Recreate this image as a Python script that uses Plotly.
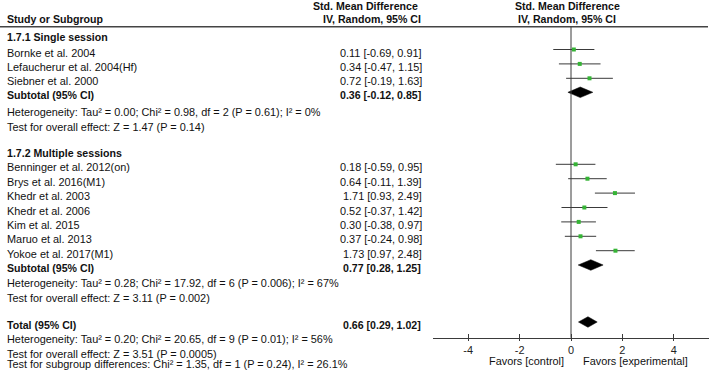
import plotly.graph_objects as go

W, H = 709, 372

# ---------------- data ----------------
studies = ["Bornke et al. 2004", "Lefaucherur et al. 2004(Hf)", "Siebner et al. 2000",
           "Benninger et al. 2012(on)", "Brys et al. 2016(M1)", "Khedr et al. 2003",
           "Khedr et al. 2006", "Kim et al. 2015", "Maruo et al. 2013", "Yokoe et al. 2017(M1)"]
smd = [0.11, 0.34, 0.72, 0.18, 0.64, 1.71, 0.52, 0.30, 0.37, 1.73]
ci_lo = [-0.69, -0.47, -0.19, -0.59, -0.11, 0.93, -0.37, -0.38, -0.24, 0.97]
ci_hi = [0.91, 1.15, 1.63, 0.95, 1.39, 2.49, 1.42, 0.97, 0.98, 2.48]

subgroup_titles = ["1.7.1 Single session", "1.7.2 Multiple sessions"]
pooled_labels = ["Subtotal (95% CI)", "Subtotal (95% CI)", "Total (95% CI)"]
pooled_est = [0.36, 0.77, 0.66]
pooled_lo = [-0.12, 0.28, 0.29]
pooled_hi = [0.85, 1.25, 1.02]
het_texts = ["Heterogeneity: Tau² = 0.00; Chi² = 0.98, df = 2 (P = 0.61); I² = 0%",
             "Heterogeneity: Tau² = 0.28; Chi² = 17.92, df = 6 (P = 0.006); I² = 67%",
             "Heterogeneity: Tau² = 0.20; Chi² = 20.65, df = 9 (P = 0.01); I² = 56%"]
overall_texts = ["Test for overall effect: Z = 1.47 (P = 0.14)",
                 "Test for overall effect: Z = 3.11 (P = 0.002)",
                 "Test for overall effect: Z = 3.51 (P = 0.0005)"]
subgroup_diff_text = "Test for subgroup differences: Chi² = 1.35, df = 1 (P = 0.24), I² = 26.1%"
x_ticks = [-4, -2, 0, 2, 4]
x_tick_labels = ["-4", "-2", "0", "2", "4"]
favors_labels = ["Favors [control]", "Favors [experimental]"]
header_col1 = "Study or Subgroup"
header_lines = ["Std. Mean Difference", "IV, Random, 95% CI"]

# ---------------- layout positions (pixels) ----------------
study_row_y = [49.5, 63.9, 78.3, 164.3, 178.7, 193.1, 207.5, 221.9, 236.3, 250.7]
pooled_row_y = [92.3, 265.0, 322.0]
title_row_y = [37.2, 152.5]
het_row_y = [111.5, 282.8, 338.8]
overall_row_y = [126.5, 298.2, 354.2]
subdiff_y = 364.0
TEXT_DY = 3.0
AXIS_Y = 337.8
HEADER_LINE_Y = 26.7
NAME_X = 5
VALUE_X = 424
DIAMOND_HALF = 5.3

FONT = "Liberation Sans, Arial, sans-serif"
FS = 10.9
FS_BOLD = 10.6
LINE = "#3a3a3a"

fig = go.Figure()

# study CIs and point estimates
fig.add_trace(go.Scatter(
    x=smd, y=study_row_y, mode="markers",
    marker=dict(symbol="square", size=4, color="#35b435", line=dict(width=0)),
    error_x=dict(type="data", symmetric=False,
                 array=[h - m for m, h in zip(smd, ci_hi)],
                 arrayminus=[m - l for m, l in zip(smd, ci_lo)],
                 width=0, thickness=1, color=LINE),
    hoverinfo="skip", showlegend=False))

# pooled diamonds
for est, lo, hi, yy in zip(pooled_est, pooled_lo, pooled_hi, pooled_row_y):
    fig.add_trace(go.Scatter(
        x=[lo, est, hi, est, lo],
        y=[yy, yy - DIAMOND_HALF, yy, yy + DIAMOND_HALF, yy],
        mode="lines", fill="toself", fillcolor="black",
        line=dict(color="black", width=0.5), hoverinfo="skip", showlegend=False))

# dummy trace to register the overlay axis (cross ticks)
fig.add_trace(go.Scatter(x=[0], y=[None], xaxis="x2", yaxis="y", mode="markers",
                         showlegend=False, hoverinfo="skip"))

annotations = []


def ann(text, px, py, anchor="left", bold=False):
    annotations.append(dict(
        text=f"<b>{text}</b>" if bold else text,
        x=px / W, xref="paper", y=py, yref="y",
        xanchor=anchor, yanchor="middle", showarrow=False,
        font=dict(family=FONT, size=FS_BOLD if bold else FS, color="#111")))


def fmt(m, l, h):
    return f"{m:.2f} [{l:.2f}, {h:.2f}]"


# headers
ann(header_col1, NAME_X, 18.8, bold=True)
ann(header_lines[0], 419.5, 5.5, anchor="right", bold=True)
ann(header_lines[1], 423.0, 18.8, anchor="right", bold=True)
ann(header_lines[0], 567, 5.5, anchor="center", bold=True)
ann(header_lines[1], 567, 18.8, anchor="center", bold=True)

for t, yy in zip(subgroup_titles, title_row_y):
    ann(t, NAME_X, yy, bold=True)

for name, m, l, h, yy in zip(studies, smd, ci_lo, ci_hi, study_row_y):
    ann(name, NAME_X, yy + TEXT_DY)
    ann(fmt(m, l, h), VALUE_X, yy + TEXT_DY, anchor="right")

for lab, m, l, h, yy in zip(pooled_labels, pooled_est, pooled_lo, pooled_hi, pooled_row_y):
    ann(lab, NAME_X, yy + TEXT_DY, bold=True)
    ann(fmt(m, l, h), VALUE_X - 1, yy + TEXT_DY, anchor="right", bold=True)

for t, yy in zip(het_texts, het_row_y):
    ann(t, NAME_X, yy)
for t, yy in zip(overall_texts, overall_row_y):
    ann(t, NAME_X, yy)
ann(subgroup_diff_text, NAME_X, subdiff_y)

ann(favors_labels[0], 565.7, 361, anchor="right")
ann(favors_labels[1], 580.7, 361, anchor="left")

axis_pos = 1 - AXIS_Y / H
x_dom = [433 / W, 1.0]
x_rng = [-5.37, 5.37]

fig.update_layout(
    width=W, height=H,
    margin=dict(l=0, r=0, t=0, b=0),
    paper_bgcolor="white", plot_bgcolor="white",
    showlegend=False,
    font=dict(family=FONT, size=FS, color="#111"),
    xaxis=dict(domain=x_dom, range=x_rng, anchor="free", position=axis_pos,
               showline=True, linecolor=LINE, linewidth=1,
               ticks="outside", ticklen=2, tickcolor=LINE, tickwidth=1,
               tickvals=x_ticks, ticktext=x_tick_labels,
               tickfont=dict(family=FONT, size=FS, color="#222"),
               showgrid=False, zeroline=False, fixedrange=True),
    xaxis2=dict(domain=x_dom, range=x_rng, anchor="free", position=axis_pos,
                overlaying="x", matches="x",
                showline=False, ticks="inside", ticklen=4, tickcolor=LINE, tickwidth=1,
                tickvals=x_ticks, showticklabels=False,
                showgrid=False, zeroline=False, fixedrange=True),
    yaxis=dict(domain=[0, 1], range=[H, 0], visible=False, fixedrange=True,
               showgrid=False, zeroline=False),
    shapes=[
        dict(type="line", xref="paper", yref="y", x0=0, x1=708 / W,
             y0=HEADER_LINE_Y, y1=HEADER_LINE_Y, line=dict(color="#444", width=1.5)),
        dict(type="line", xref="x", yref="y", x0=0, x1=0,
             y0=HEADER_LINE_Y, y1=AXIS_Y, line=dict(color=LINE, width=1)),
    ],
    annotations=annotations,
)

fig.write_html(
    "out.html",
    config={"displayModeBar": False, "staticPlot": True},
    post_script="document.body.style.margin='0';document.body.style.padding='0';"
                "document.documentElement.style.overflow='hidden';",
)
